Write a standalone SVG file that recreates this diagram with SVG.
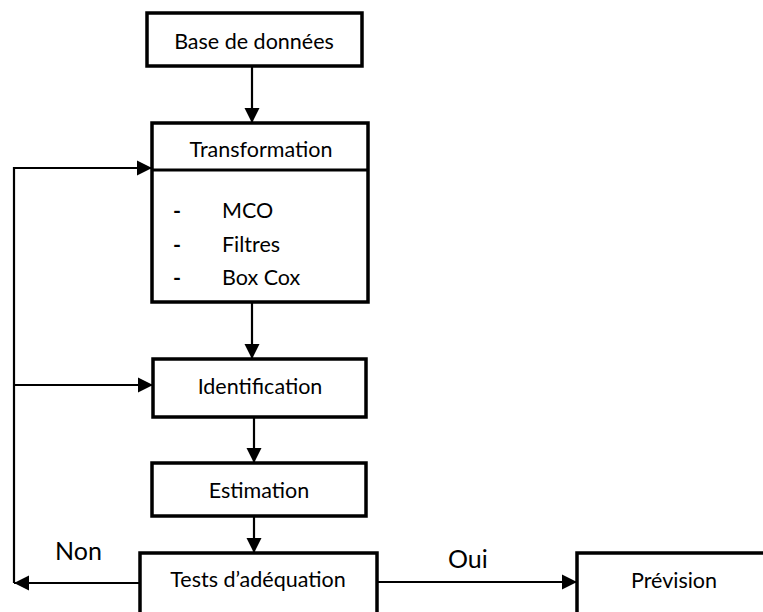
<svg xmlns="http://www.w3.org/2000/svg" width="763" height="612" viewBox="0 0 763 612">
<style>
.box{fill:#fff;stroke:#000;stroke-width:3.5}
.t{font-family:Lato,"Open Sans",sans-serif;font-size:21.5px;fill:#000}
.c{text-anchor:middle}
.d{font-weight:bold}
.ln{fill:none;stroke:#000;stroke-width:2.2}
.lbl{font-family:Lato,"Open Sans",sans-serif;font-size:25px;fill:#000}
</style>
<defs>
<marker id="ah" markerWidth="7" markerHeight="7" refX="7" refY="3.5" orient="auto" markerUnits="strokeWidth">
<path d="M0,0 L7,3.5 L0,7 Z" fill="#000"/>
</marker>
</defs>
<g id="connectors">
<path class="ln" d="M252,66 V123" marker-end="url(#ah)"/>
<path class="ln" d="M252,302 V359" marker-end="url(#ah)"/>
<path class="ln" d="M254,417 V463" marker-end="url(#ah)"/>
<path class="ln" d="M254,516 V553" marker-end="url(#ah)"/>
<path class="ln" d="M140,583 H14" marker-end="url(#ah)"/>
<path class="ln" d="M14,583 V168 H152" marker-end="url(#ah)"/>
<path class="ln" d="M15,385 H153" marker-end="url(#ah)"/>
<path class="ln" d="M377,582 H577" marker-end="url(#ah)"/>
<text class="lbl" x="55" y="560">Non</text>
<text class="lbl" x="448" y="568">Oui</text>
</g>
<g id="base">
<rect class="box" x="147" y="13" width="215" height="53"/>
<text class="t c" x="254" y="49">Base de données</text>
</g>
<g id="transformation">
<rect class="box" x="152" y="123" width="216" height="179"/>
<line x1="152" y1="170" x2="368" y2="170" stroke="#000" stroke-width="3"/>
<text class="t c" x="261" y="157">Transformation</text>
<text class="t d" x="173" y="218">-</text>
<text class="t" x="222" y="218">MCO</text>
<text class="t d" x="173" y="252">-</text>
<text class="t" x="222" y="252">Filtres</text>
<text class="t d" x="173" y="285">-</text>
<text class="t" x="222" y="285">Box Cox</text>
</g>
<g id="identification">
<rect class="box" x="153" y="359" width="213" height="58"/>
<text class="t c" x="260" y="394">Identification</text>
</g>
<g id="estimation">
<rect class="box" x="152" y="463" width="214" height="53"/>
<text class="t c" x="259" y="498">Estimation</text>
</g>
<g id="tests">
<rect class="box" x="140" y="553" width="237" height="70"/>
<text class="t c" x="258" y="587">Tests d’adéquation</text>
</g>
<g id="prevision">
<rect class="box" x="577" y="553" width="200" height="70"/>
<text class="t c" x="674" y="588">Prévision</text>
</g>
</svg>
